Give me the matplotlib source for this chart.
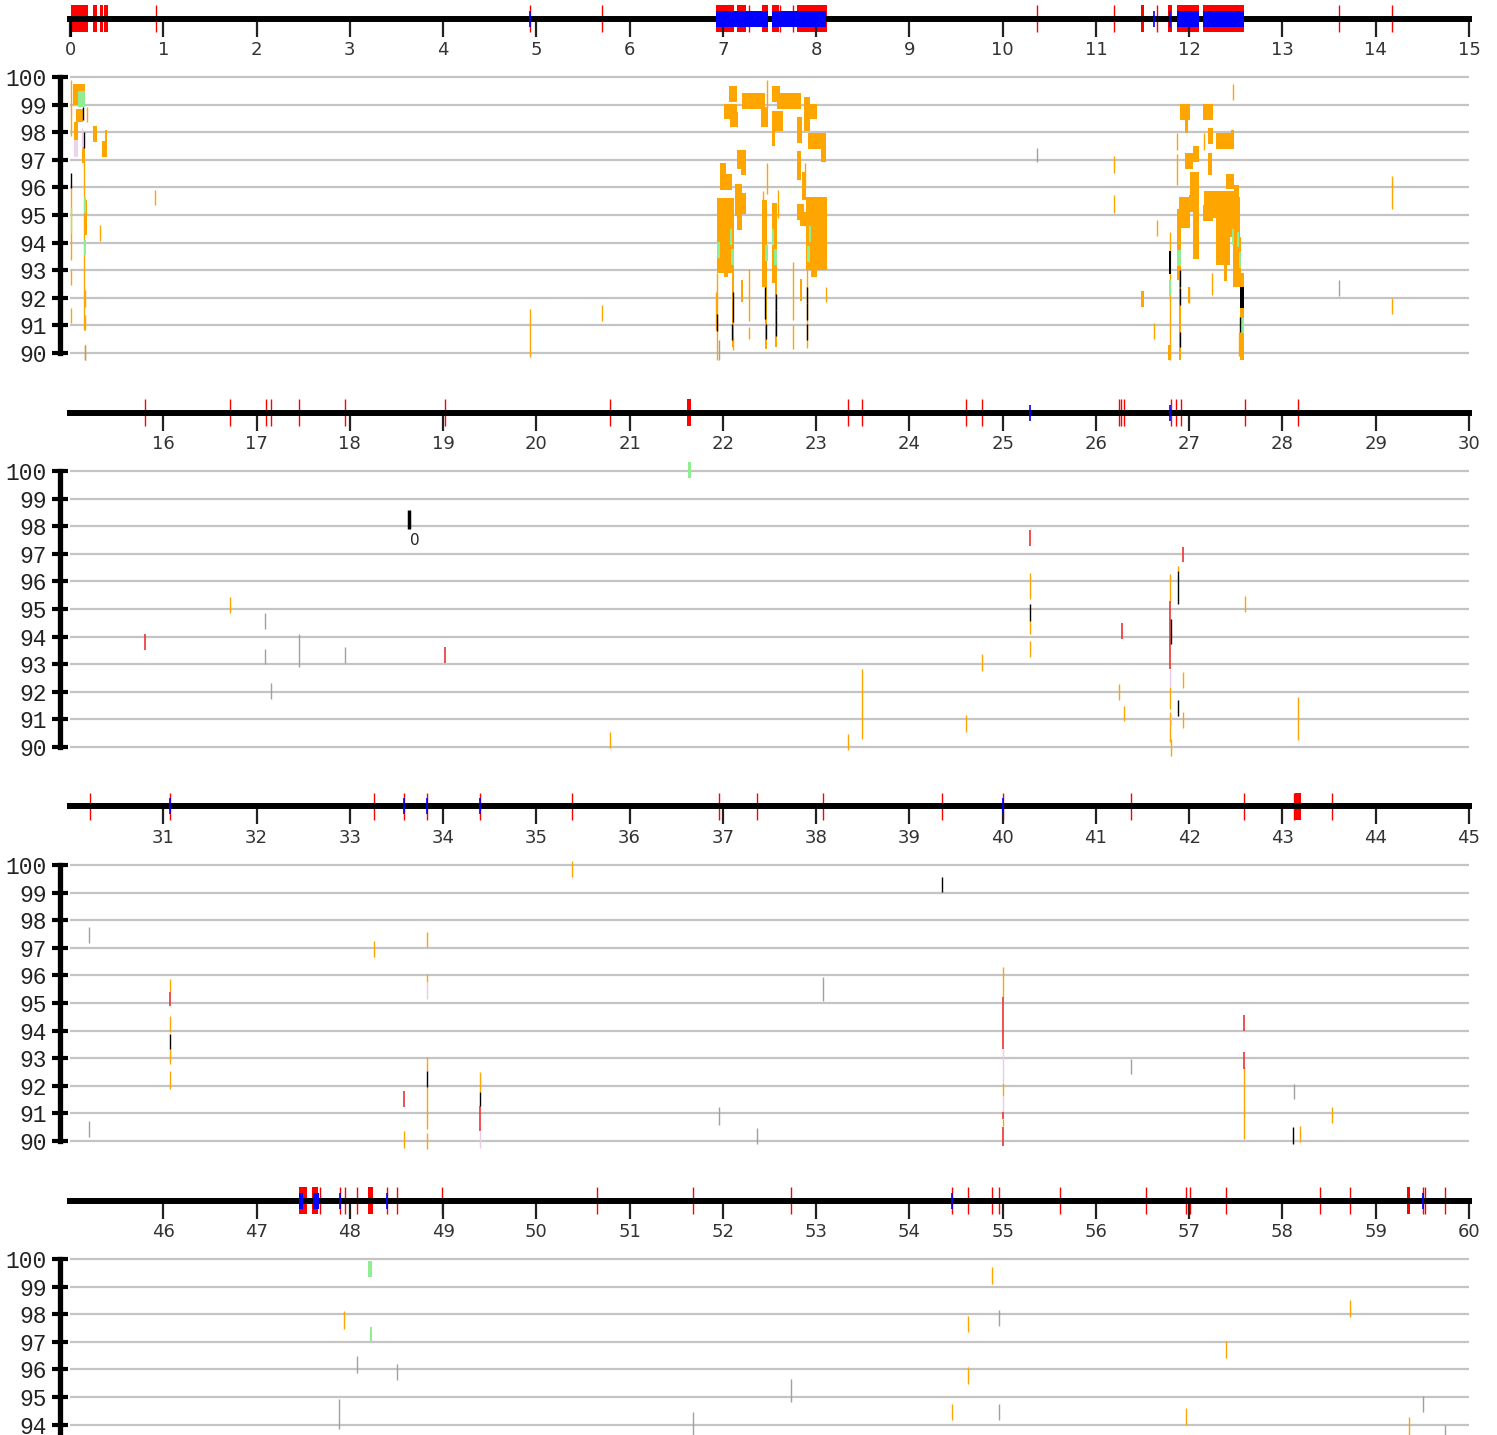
import matplotlib.pyplot as plt

# ---- top track features (position in Mb) ----
red_blocks = [(0.01, 0.19), (0.25, 0.29), (0.32, 0.35), (0.36, 0.41),
              (6.93, 7.12), (7.15, 7.25), (7.42, 7.48), (7.53, 7.60), (7.79, 8.12),
              (11.48, 11.52), (11.77, 11.82), (11.87, 12.10), (12.15, 12.59),
              (21.62, 21.66), (43.13, 43.20),
              (47.46, 47.54), (47.60, 47.66), (48.19, 48.25), (59.33, 59.37)]
red_lines = [0.925, 4.93, 5.70, 7.28, 7.61, 7.75, 10.37, 11.19, 11.65, 13.61, 14.17,
             15.80, 16.72, 17.10, 17.16, 17.46, 17.95, 19.02, 20.79, 23.34, 23.49,
             24.61, 24.78, 26.25, 26.27, 26.30, 26.80, 26.86, 26.91, 27.60, 28.17,
             30.21, 31.07, 33.26, 33.58, 33.83, 34.40, 35.38, 36.96, 37.37, 38.07,
             39.35, 40.0, 41.38, 42.59, 43.12, 43.53,
             47.68, 47.89, 47.945, 48.08, 48.40, 48.51, 48.99, 50.65, 51.68, 52.73,
             54.46, 54.63, 54.89, 54.96, 55.61, 56.54, 56.97, 57.01, 57.39, 58.40,
             58.72, 59.51, 59.53, 59.74]
blue_blocks = [(6.93, 7.48), (7.53, 8.11), (11.87, 12.10), (12.15, 12.59),
               (47.455, 47.50), (47.605, 47.67)]
blue_lines = [4.93, 11.62, 11.79, 25.29, 26.79, 31.07, 33.58, 33.83, 34.40, 40.0,
              47.89, 48.40, 54.46, 59.51]

# ---- identity panel: blocks (x0, x1, low, high) and thin lines (x, low, high) ----
orange_blocks = [
    (0.032, 0.161, 98.99, 99.75), (0.064, 0.139, 98.37, 98.86), (0.043, 0.086, 97.72, 98.37),
    (0.129, 0.161, 96.87, 97.47), (0.247, 0.289, 97.66, 98.22), (0.343, 0.397, 97.11, 97.68),
    (0.375, 0.397, 97.66, 98.08), (0.150, 0.182, 94.28, 95.54),
    (7.066, 7.148, 99.11, 99.67), (7.205, 7.452, 98.84, 99.41), (7.01, 7.15, 98.47, 99.02),
    (7.08, 7.16, 98.18, 98.73), (7.408, 7.483, 98.18, 98.92), (7.527, 7.612, 99.11, 99.67),
    (7.58, 7.838, 98.84, 99.41), (7.527, 7.645, 98.05, 98.77), (7.53, 7.56, 97.5, 98.08),
    (7.87, 7.93, 98.05, 99.28), (7.91, 8.01, 98.47, 99.02), (7.795, 7.848, 97.6, 98.55),
    (7.91, 8.105, 97.40, 97.97), (8.05, 8.105, 96.93, 97.97), (7.15, 7.25, 96.68, 97.36),
    (7.194, 7.25, 96.45, 96.8), (7.795, 7.84, 96.27, 97.33), (6.97, 7.03, 95.9, 96.9),
    (7.01, 7.10, 95.9, 96.5), (7.85, 7.89, 95.54, 96.56), (7.13, 7.20, 94.96, 96.11),
    (7.19, 7.25, 95.04, 95.8), (7.15, 7.20, 94.46, 95.07), (7.42, 7.47, 92.4, 95.54),
    (7.53, 7.58, 92.54, 95.43), (7.795, 7.87, 94.82, 95.41), (7.83, 7.89, 94.6, 95.1),
    (7.89, 8.116, 93.0, 95.66), (7.95, 8.01, 92.76, 93.37), (6.94, 7.12, 92.9, 95.6),
    (7.01, 7.06, 92.76, 93.4), (7.10, 7.12, 90.23, 92.9), (7.194, 7.215, 91.86, 92.64),
    (7.45, 7.47, 90.16, 93.37), (7.56, 7.58, 90.23, 92.64), (7.83, 7.85, 91.9, 92.7),
    (11.90, 12.008, 98.44, 99.02), (11.954, 11.987, 97.99, 98.44), (12.148, 12.255, 98.44, 99.02),
    (12.2, 12.255, 97.57, 98.14), (12.287, 12.48, 97.39, 97.96), (12.448, 12.48, 97.96, 98.08),
    (11.954, 12.04, 96.67, 97.25), (12.04, 12.105, 96.92, 97.5), (12.2, 12.244, 96.45, 97.25),
    (12.394, 12.48, 95.95, 96.5), (12.48, 12.53, 95.64, 96.09), (12.008, 12.105, 95.72, 96.56),
    (11.997, 12.105, 95.12, 95.72), (11.89, 12.008, 94.54, 95.64), (12.04, 12.105, 93.4, 95.12),
    (11.869, 11.912, 92.64, 95.22), (12.158, 12.48, 94.9, 95.87), (12.148, 12.255, 94.8, 95.36),
    (12.287, 12.437, 93.2, 94.9), (12.437, 12.55, 94.21, 95.64), (12.47, 12.56, 92.4, 94.21),
    (12.373, 12.405, 92.61, 93.2), (11.987, 12.008, 91.82, 92.4), (11.483, 11.515, 91.68, 92.25),
    (12.54, 12.587, 89.75, 92.89), (11.772, 11.804, 89.75, 90.29), (11.89, 11.912, 89.75, 93.1),
]
orange_lines = [
    (0.011, 97.86, 99.89), (0.182, 98.38, 98.92), (0.152, 90.83, 97.0), (0.011, 93.37, 95.97),
    (0.011, 92.46, 93.01), (0.011, 91.08, 91.62), (0.161, 91.68, 92.28), (0.161, 90.83, 91.38),
    (0.161, 89.75, 90.29), (0.322, 94.06, 94.64), (0.911, 95.36, 95.9),
    (4.93, 89.85, 91.6), (5.70, 91.16, 91.74),
    (7.473, 98.92, 99.89), (7.473, 95.77, 96.9), (7.43, 94.78, 95.87), (7.59, 94.9, 95.9),
    (8.105, 91.86, 92.4), (6.937, 89.75, 92.9), (6.93, 90.83, 92.2), (7.11, 90.1, 90.6),
    (7.28, 91.17, 93.04), (7.28, 90.5, 90.95), (7.75, 91.2, 93.3), (7.75, 90.15, 91.0),
    (7.90, 90.2, 93.37), (7.88, 96.0, 96.9),
    (12.47, 99.17, 99.75), (11.869, 97.36, 97.96), (12.158, 97.36, 97.96), (11.869, 96.09, 97.2),
    (12.244, 92.10, 92.89), (11.654, 94.25, 94.82), (11.622, 90.5, 91.08), (11.79, 89.75, 94.4),
    (11.997, 91.82, 92.4), (11.19, 96.52, 97.14), (11.19, 95.07, 95.72), (14.17, 95.22, 96.41),
    (14.17, 91.41, 91.99), (12.53, 89.9, 90.77),
    (16.72, 94.86, 95.43), (20.79, 89.96, 90.54), (23.34, 89.89, 90.47), (23.49, 90.29, 92.83),
    (24.61, 90.54, 91.16), (24.78, 92.75, 93.37), (25.29, 95.36, 96.30), (25.29, 94.09, 94.57),
    (25.29, 93.26, 93.84), (26.25, 91.71, 92.28), (26.30, 90.93, 91.5), (26.79, 95.30, 96.27),
    (26.79, 91.38, 92.17), (26.79, 90.18, 91.27), (26.80, 89.67, 90.29), (26.88, 96.38, 96.56),
    (27.60, 94.90, 95.48), (26.93, 92.14, 92.72), (26.93, 90.69, 91.28), (28.17, 90.26, 91.82),
    (31.07, 95.4, 95.87), (31.07, 93.95, 94.53), (31.07, 92.79, 93.33), (31.07, 91.88, 92.54),
    (33.26, 96.67, 97.25), (33.58, 89.75, 90.37), (33.83, 97.03, 97.57), (33.83, 95.76, 96.05),
    (33.83, 92.55, 93.05), (33.83, 90.43, 91.95), (33.83, 89.71, 90.29), (34.40, 91.78, 92.5),
    (35.385, 99.58, 100.16), (40.006, 95.22, 96.3), (40.006, 91.64, 92.1), (40.006, 90.55, 90.8),
    (42.59, 90.07, 92.68), (43.19, 89.96, 90.54), (43.53, 90.65, 91.23),
    (47.94, 97.46, 98.12), (54.46, 94.17, 94.75), (54.63, 97.36, 97.93), (54.63, 95.47, 96.09),
    (54.89, 99.09, 99.71), (56.97, 93.99, 94.6), (57.39, 96.41, 97.03), (58.72, 97.9, 98.51),
    (59.36, 93.4, 94.28),
]
green_blocks = [
    (0.086, 0.161, 98.91, 99.49), (0.150, 0.172, 95.06, 95.66), (0.150, 0.172, 93.55, 94.09),
    (6.94, 6.97, 93.45, 94.03), (7.08, 7.10, 93.92, 94.49), (7.087, 7.12, 93.2, 93.78),
    (7.45, 7.48, 93.34, 93.92), (7.53, 7.55, 93.92, 94.49), (7.55, 7.58, 93.2, 93.78),
    (7.92, 7.945, 94.03, 94.6), (7.90, 7.93, 93.3, 93.88),
    (11.869, 11.912, 93.16, 93.73), (12.459, 12.48, 93.91, 94.49), (12.51, 12.53, 93.85, 94.4),
    (12.53, 12.56, 93.07, 93.65), (11.78, 11.80, 92.07, 92.64), (12.56, 12.587, 90.71, 91.26),
    (21.625, 21.66, 99.75, 100.33), (48.20, 48.235, 99.35, 99.93), (48.22, 48.24, 96.99, 97.54),
]
green_lines = [(0.011, 94.34, 95.30)]
black_blocks = [(12.54, 12.587, 91.62, 92.4), (11.78, 11.80, 92.85, 93.7)]
black_lines = [
    (0.139, 98.44, 98.92), (0.150, 97.42, 98.02), (0.011, 95.97, 96.51),
    (6.937, 90.8, 91.41), (7.106, 91.11, 92.22), (7.096, 90.47, 91.05), (7.45, 91.22, 92.4),
    (7.46, 90.5, 91.06), (7.57, 91.56, 92.14), (7.57, 90.6, 91.56), (7.90, 91.8, 92.4),
    (7.90, 91.2, 91.8), (7.90, 90.47, 91.06),
    (11.90, 92.4, 93.01), (11.90, 91.75, 92.34), (11.90, 90.23, 90.77), (12.54, 90.77, 91.3),
    (25.29, 94.57, 95.18), (26.80, 93.73, 94.64), (26.88, 95.18, 96.39), (26.88, 91.13, 91.70),
    (31.07, 93.33, 93.88), (33.83, 91.95, 92.55), (34.40, 91.28, 91.78), (39.35, 99.02, 99.57),
    (43.11, 89.89, 90.51),
]
red_marks = [
    (15.80, 93.51, 94.09), (19.02, 93.04, 93.62), (25.29, 97.28, 97.86), (26.28, 93.91, 94.49),
    (26.93, 96.70, 97.25), (26.79, 92.83, 95.30),
    (31.07, 94.9, 95.4), (33.58, 91.24, 91.82), (34.40, 90.37, 91.28), (40.006, 93.33, 95.22),
    (40.006, 90.8, 91.05), (40.006, 89.82, 90.5), (42.59, 93.99, 94.57), (42.59, 92.61, 93.22),
]
pink_blocks = [(0.043, 0.086, 97.09, 97.72)]
pink_lines = [
    (0.129, 97.42, 98.14), (26.795, 92.17, 92.83), (26.80, 90.8, 91.2),
    (33.83, 95.14, 95.76), (34.40, 89.75, 90.37), (40.006, 92.1, 93.33), (40.006, 91.05, 91.64),
]
gray_lines = [
    (10.37, 96.92, 97.43), (13.61, 92.07, 92.64), (0.16, 89.75, 90.29), (6.96, 89.75, 90.47),
    (17.09, 94.28, 94.86), (17.09, 93.0, 93.55), (17.16, 91.74, 92.32), (17.46, 92.9, 94.09),
    (17.95, 93.04, 93.62),
    (30.20, 97.17, 97.75), (30.20, 90.14, 90.72), (36.96, 90.58, 91.23), (37.37, 89.89, 90.47),
    (38.07, 95.07, 95.94), (41.38, 92.43, 92.97), (43.12, 91.52, 92.07),
    (48.08, 95.87, 96.49), (48.51, 95.62, 96.2), (47.88, 93.84, 94.93), (51.68, 93.5, 94.46),
    (52.73, 94.82, 95.65), (54.96, 97.57, 98.15), (54.96, 94.17, 94.75), (59.51, 94.46, 95.04),
    (59.74, 93.5, 94.0),
]
# single labelled marker in the 15-30 panel
zero_mark = (18.635, 97.9, 98.59)
zero_label = '0'

W, H = 1497, 1435
ROW_STEP = 394
SPAN = 15

fig = plt.figure(figsize=(W / 100, H / 100), dpi=100)


def rect(x0, y0, w, h):
    return [x0 / W, 1 - (y0 + h) / H, w / W, h / H]


def draw_blocks(ax, blocks, color, z=2):
    for x0, x1, lo, hi in blocks:
        ax.bar(x0, hi - lo, width=x1 - x0, bottom=lo, align='edge',
               color=color, linewidth=0, zorder=z)


def draw_lines(ax, lines, color, lw=1.0, z=2):
    if lines:
        xs, los, his = zip(*lines)
        ax.vlines(xs, los, his, colors=color, lw=lw, zorder=z)


for r in range(4):
    start = SPAN * r
    end = start + SPAN
    oy = ROW_STEP * r

    # --- coordinate track ---
    tk = fig.add_axes(rect(70, oy, 1399, 45))
    tk.set_xlim(start, end)
    tk.set_ylim(26.5, -18.5)
    tk.patch.set_visible(False)
    for s in ['top', 'left', 'right']:
        tk.spines[s].set_visible(False)
    tk.spines['bottom'].set_position(('data', 0))
    tk.spines['bottom'].set_linewidth(4.3)
    tk.spines['bottom'].set_zorder(2)
    tk.set_yticks([])
    ticks = list(range(start if r == 0 else start + 1, end + 1))
    tk.set_xticks(ticks)
    tk.set_xticklabels([str(t) for t in ticks])
    tk.tick_params(axis='x', direction='out', length=13.3, width=1.6, color='#222',
                   pad=3, labelsize=13, labelcolor='#333')
    if r == 0:
        tk.vlines(start, 0, 18.5, colors='black', lw=3.0, zorder=2)
    for x0, x1 in red_blocks:
        tk.bar(x0, 27, width=x1 - x0, bottom=-13.5, align='edge', color='#ff0000',
               linewidth=0, zorder=1)
    tk.vlines(red_lines, -13.5, 13.5, colors='#ff0000', lw=1.0, zorder=1)
    for x0, x1 in blue_blocks:
        tk.bar(x0, 16, width=x1 - x0, bottom=-8, align='edge', color='#0000ff',
               linewidth=0, zorder=3)
    tk.vlines(blue_lines, -8, 8, colors='#0000ff', lw=1.2, zorder=3)

    # --- identity panel ---
    pn = fig.add_axes(rect(70, oy + 66, 1399, 298.08))
    pn.set_xlim(start, end)
    pn.set_ylim(89.6, 100.4)
    pn.patch.set_visible(False)
    for s in ['top', 'bottom', 'right']:
        pn.spines[s].set_visible(False)
    pn.spines['left'].set_position(('outward', 7.2))
    pn.spines['left'].set_bounds(90, 100)
    pn.spines['left'].set_linewidth(3.8)
    pn.set_xticks([])
    # the last panel runs past the bottom edge; only label the visible levels
    yt = list(range(90, 101)) if r < 3 else list(range(94, 101))
    pn.set_yticks(yt)
    pn.tick_params(axis='y', direction='inout', length=12.2, width=3.0, color='black',
                   pad=3.2, labelsize=16.5, labelcolor='#222',
                   labelfontfamily='Liberation Mono')
    pn.grid(axis='y', color='#c4c4c4', lw=1.6)
    if r == 3:
        for lv in range(90, 94):
            pn.axhline(lv, color='#c4c4c4', lw=1.6, zorder=0)
    pn.set_axisbelow(True)

    draw_blocks(pn, orange_blocks, '#ffa500')
    draw_lines(pn, orange_lines, '#ffa500')
    draw_blocks(pn, green_blocks, '#90ee90', z=3)
    draw_lines(pn, green_lines, '#90ee90', z=3)
    draw_blocks(pn, pink_blocks, '#ecd4ec', z=3)
    draw_lines(pn, pink_lines, '#e6cce6', z=3)
    draw_lines(pn, gray_lines, '#a0a0a0', z=3)
    draw_lines(pn, red_marks, '#ee3333', lw=1.2, z=3)
    draw_blocks(pn, black_blocks, 'black', z=4)
    draw_lines(pn, black_lines, 'black', z=4)

    if start <= zero_mark[0] < end:
        pn.vlines(zero_mark[0], zero_mark[1], zero_mark[2], colors='black', lw=2.5, zorder=4)
        pn.annotate(zero_label, (zero_mark[0], zero_mark[1]), xytext=(4, -3),
                    textcoords='offset points', ha='center', va='top',
                    fontsize=11, color='#222')

fig.savefig('out.png', dpi=100)
